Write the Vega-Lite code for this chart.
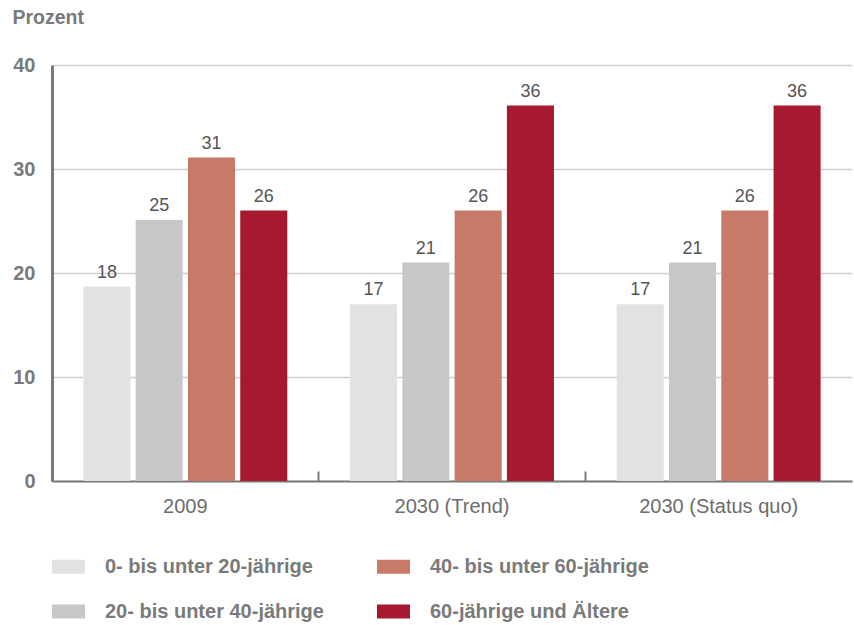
{
  "$schema": "https://vega.github.io/schema/vega-lite/v6.json",
  "autosize": "none",
  "width": 800,
  "height": 416,
  "padding": {"left": 52, "top": 65, "right": 2, "bottom": 144},
  "config": {
    "font": "Liberation Sans",
    "view": {"stroke": null}
  },
  "data": {
    "values": [
      {"gruppe": "2009", "alter": "0- bis unter 20-jährige", "wert": 18.7, "label": "18"},
      {"gruppe": "2009", "alter": "20- bis unter 40-jährige", "wert": 25.1, "label": "25"},
      {"gruppe": "2009", "alter": "40- bis unter 60-jährige", "wert": 31.1, "label": "31"},
      {"gruppe": "2009", "alter": "60-jährige und Ältere", "wert": 26.0, "label": "26"},
      {"gruppe": "2030 (Trend)", "alter": "0- bis unter 20-jährige", "wert": 17.0, "label": "17"},
      {"gruppe": "2030 (Trend)", "alter": "20- bis unter 40-jährige", "wert": 21.0, "label": "21"},
      {"gruppe": "2030 (Trend)", "alter": "40- bis unter 60-jährige", "wert": 26.0, "label": "26"},
      {"gruppe": "2030 (Trend)", "alter": "60-jährige und Ältere", "wert": 36.1, "label": "36"},
      {"gruppe": "2030 (Status quo)", "alter": "0- bis unter 20-jährige", "wert": 17.0, "label": "17"},
      {"gruppe": "2030 (Status quo)", "alter": "20- bis unter 40-jährige", "wert": 21.0, "label": "21"},
      {"gruppe": "2030 (Status quo)", "alter": "40- bis unter 60-jährige", "wert": 26.0, "label": "26"},
      {"gruppe": "2030 (Status quo)", "alter": "60-jährige und Ältere", "wert": 36.1, "label": "36"}
    ]
  },
  "encoding": {
    "x": {
      "field": "gruppe",
      "type": "nominal",
      "sort": ["2009", "2030 (Trend)", "2030 (Status quo)"],
      "scale": {"paddingInner": 0, "paddingOuter": 0},
      "axis": {
        "title": null,
        "labelAngle": 0,
        "bandPosition": 0,
        "labelFontSize": 20,
        "labelColor": "#6d6d6d",
        "labelPadding": 25,
        "ticks": true,
        "tickSize": -10,
        "tickColor": "#7a7a7a",
        "tickWidth": 2,
        "domainColor": "#7a7a7a",
        "domainWidth": 2,
        "grid": false
      }
    },
    "xOffset": {
      "field": "alter",
      "type": "nominal",
      "sort": ["0- bis unter 20-jährige", "20- bis unter 40-jährige", "40- bis unter 60-jährige", "60-jährige und Ältere"],
      "scale": {"paddingInner": 0.1, "paddingOuter": 0.6}
    },
    "y": {
      "field": "wert",
      "type": "quantitative",
      "scale": {"domain": [0, 40]},
      "axis": {
        "title": "Prozent",
        "titleAngle": 0,
        "titleAlign": "left",
        "titleBaseline": "middle",
        "titleX": -40,
        "titleY": -48,
        "titleFontSize": 19.5,
        "titleFontWeight": "bold",
        "titleColor": "#7a7a7a",
        "values": [0, 10, 20, 30, 40],
        "labelFontSize": 20,
        "labelFontWeight": "bold",
        "labelColor": "#7a7a7a",
        "labelPadding": 17,
        "ticks": false,
        "domainColor": "#7a7a7a",
        "domainWidth": 3,
        "gridColor": "#cfcfcf",
        "gridWidth": 1.5
      }
    }
  },
  "layer": [
    {
      "mark": {"type": "bar"},
      "encoding": {
        "color": {
          "field": "alter",
          "type": "nominal",
          "scale": {
            "domain": ["0- bis unter 20-jährige", "40- bis unter 60-jährige", "20- bis unter 40-jährige", "60-jährige und Ältere"],
            "range": ["#e1e3e2", "#c87a69", "#c6c7c9", "#a6192e"]
          },
          "legend": {
            "title": null,
            "orient": "bottom",
            "offset": 34,
            "columns": 2,
            "columnPadding": 53,
            "rowPadding": 18,
            "symbolType": "M-1,-0.42H1V0.42H-1Z",
            "symbolSize": 1089,
            "symbolStrokeWidth": 0,
            "labelFontSize": 20,
            "labelFontWeight": "bold",
            "labelColor": "#7a7a7a",
            "labelOffset": 20,
            "labelLimit": 400
          }
        }
      }
    },
    {
      "mark": {"type": "text", "baseline": "bottom", "dy": -5, "fontSize": 18, "color": "#555555"},
      "encoding": {
        "text": {"field": "label"}
      }
    }
  ]
}
